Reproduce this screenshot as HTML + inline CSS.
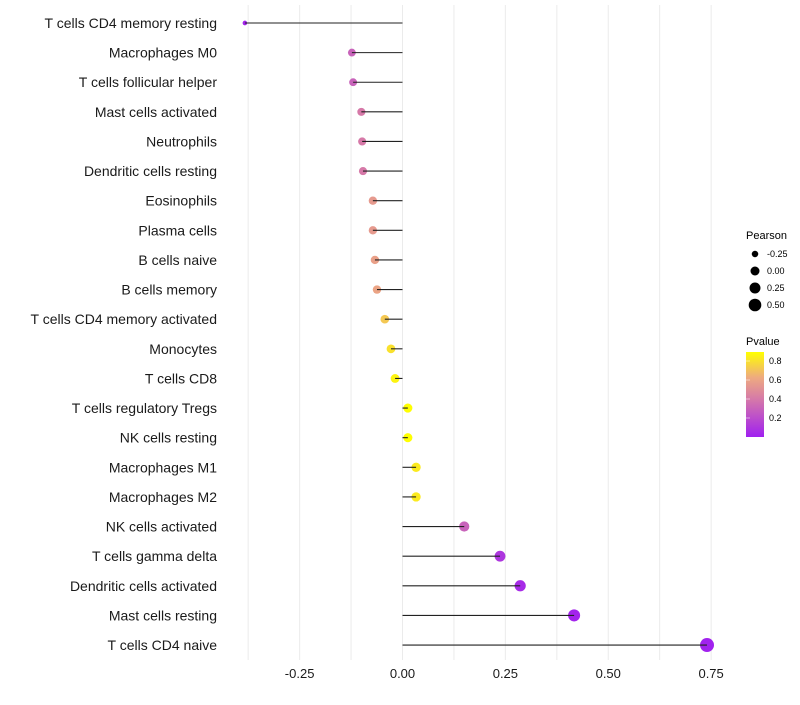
<!DOCTYPE html>
<html><head><meta charset="utf-8"><style>
body{margin:0;background:#fff;}
svg text{font-family:"Liberation Sans",sans-serif;}
</style></head><body>
<svg id="chart" width="800" height="700" xmlns="http://www.w3.org/2000/svg">
<g id="grid"></g>
<g id="marks"></g>
<g id="ylabels"></g>
<g id="xlabels"></g>
<g id="legend">
<defs><linearGradient id="pg" x1="0" y1="1" x2="0" y2="0">
<stop offset="0" stop-color="#a020f0"/><stop offset="0.45" stop-color="#d67aa8"/><stop offset="0.7" stop-color="#eeaa80"/><stop offset="1" stop-color="#ffff00"/></linearGradient></defs>
</g>
</svg>
<script>
const categories=["T cells CD4 memory resting","Macrophages M0","T cells follicular helper","Mast cells activated","Neutrophils","Dendritic cells resting","Eosinophils","Plasma cells","B cells naive","B cells memory","T cells CD4 memory activated","Monocytes","T cells CD8","T cells regulatory  Tregs","NK cells resting","Macrophages M1","Macrophages M2","NK cells activated","T cells gamma delta","Dendritic cells activated","Mast cells resting","T cells CD4 naive"];
const pearson=[-0.383,-0.123,-0.12,-0.10,-0.098,-0.096,-0.072,-0.072,-0.067,-0.062,-0.043,-0.028,-0.018,0.013,0.013,0.033,0.033,0.15,0.237,0.286,0.417,0.74];
const pvalue=[0.02,0.3,0.3,0.4,0.4,0.4,0.55,0.55,0.58,0.6,0.72,0.8,0.86,0.9,0.9,0.83,0.83,0.3,0.1,0.05,0.02,0.01];
const xTicks=[-0.25,0,0.25,0.5,0.75];
const xTickLabels=["-0.25","0.00","0.25","0.50","0.75"];
const sizeBreaks=[-0.25,0,0.25,0.5];
const sizeLabels=["-0.25","0.00","0.25","0.50"];
const pTicks=[0.2,0.4,0.6,0.8];
const pTickLabels=["0.2","0.4","0.6","0.8"];
const NS="http://www.w3.org/2000/svg";
const x=v=>402.5+v*411.5;
const y=i=>23+i*29.62;
const r=v=>Math.sqrt(Math.max(2,20.25+38.9*v));
function lerp(a,b,t){return a+(b-a)*t;}
const stops=[[0,[160,32,240]],[0.45,[214,122,168]],[0.7,[238,170,128]],[1,[255,255,0]]];
function col(p){let t=Math.max(0,Math.min(1,p/0.895));for(let k=0;k<stops.length-1;k++){if(t<=stops[k+1][0]){const u=(t-stops[k][0])/(stops[k+1][0]-stops[k][0]);const c=stops[k][1].map((a,j)=>Math.round(lerp(a,stops[k+1][1][j],u)));return`rgb(${c})`;}}return"rgb(255,255,0)";}
function mk(tag,at,parent){const e=document.createElementNS(NS,tag);for(const k in at)e.setAttribute(k,at[k]);document.getElementById(parent).appendChild(e);return e;}
for(let g=-0.375;g<=0.751;g+=0.125){const l=mk("line",{x1:x(g),x2:x(g),y1:5,y2:660,stroke:"#ebebeb","stroke-width":1},"grid");

}
categories.forEach((c,i)=>{
const pt=mk("circle",{cx:x(pearson[i]),cy:y(i),r:r(pearson[i]),fill:col(pvalue[i])},"marks");


const sg=mk("line",{x1:x(pearson[i]),x2:x(0),y1:y(i),y2:y(i),stroke:"#222","stroke-width":1.1},"marks");


const t=mk("text",{x:217,y:y(i)+5,"text-anchor":"end","font-size":14,fill:"#1a1a1a","xml:space":"preserve"},"ylabels");t.textContent=c;


});
xTicks.forEach((v,i)=>{const t=mk("text",{x:x(v),y:678,"text-anchor":"middle","font-size":13,fill:"#1a1a1a"},"xlabels");t.textContent=xTickLabels[i];

});
const lt=mk("text",{x:746,y:239,"font-size":11,fill:"#000"},"legend");lt.textContent="Pearson";


sizeBreaks.forEach((v,i)=>{const cy=254+i*17;const c=mk("circle",{cx:755,cy:cy,r:r(v),fill:"#000"},"legend");


const t=mk("text",{x:767,y:cy+3,"font-size":9,fill:"#000"},"legend");t.textContent=sizeLabels[i];

});
const pt2=mk("text",{x:746,y:345,"font-size":11,fill:"#000"},"legend");pt2.textContent="Pvalue";


const bar=mk("rect",{x:746,y:352,width:18,height:85,fill:"url(#pg)"},"legend");


pTicks.forEach((v,i)=>{const yy=437-v*95;const t=mk("text",{x:769,y:yy+3,"font-size":9,fill:"#000"},"legend");t.textContent=pTickLabels[i];


const tk=mk("line",{x1:746,x2:750,y1:yy,y2:yy,stroke:"#fff","stroke-width":0.5},"legend");

});
</script>
</body></html>
